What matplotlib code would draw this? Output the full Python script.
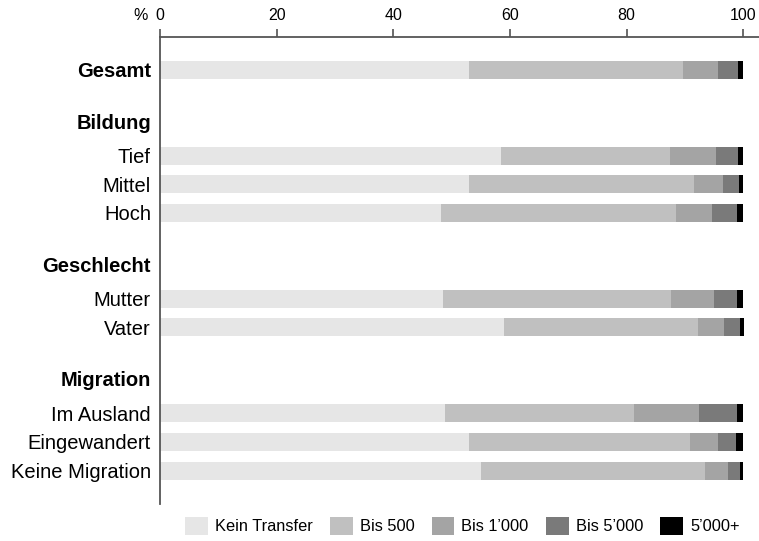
import matplotlib
matplotlib.use("Agg")
import matplotlib.pyplot as plt
from matplotlib.patches import Patch

plt.rcParams['font.family'] = ['Liberation Sans', 'DejaVu Sans']

rows = ["Gesamt", "Tief", "Mittel", "Hoch", "Mutter", "Vater",
        "Im Ausland", "Eingewandert", "Keine Migration"]
headers = ["Bildung", "Geschlecht", "Migration"]
series = ["Kein Transfer", "Bis 500", "Bis 1\u2019000", "Bis 5\u2019000", "5\u2019000+"]

kein_transfer = [53.0, 58.5, 52.9, 48.2, 48.6, 58.9, 48.8, 53.0, 55.0]
bis_500       = [36.7, 29.0, 38.7, 40.3, 39.0, 33.4, 32.4, 37.9, 38.4]
bis_1000      = [6.0, 7.9, 4.9, 6.2, 7.3, 4.4, 11.2, 4.8, 4.0]
bis_5000      = [3.4, 3.7, 2.8, 4.2, 4.0, 2.8, 6.5, 3.1, 2.1]
ueber_5000    = [0.9, 0.9, 0.7, 1.1, 1.1, 0.7, 1.1, 1.2, 0.5]

xticks = [0, 20, 40, 60, 80, 100]

colors = ["#e6e6e6", "#c0c0c0", "#a4a4a4", "#7a7a7a", "#000000"]

# layout positions (row index units)
row_pos = [0, 3, 4, 5, 8, 9, 12, 13, 14]
header_pos = [1.8, 6.8, 10.8]

fig = plt.figure(figsize=(7.59, 5.41), dpi=100)
ax = fig.add_axes([160/759, 1-504/541, 1-160/759, (504-37)/541])

data = [kein_transfer, bis_500, bis_1000, bis_5000, ueber_5000]
left = [0.0]*len(rows)
for vals, col, name in zip(data, colors, series):
    ax.barh(row_pos, vals, left=left, height=0.63, color=col, label=name,
            linewidth=0)
    left = [l + v for l, v in zip(left, vals)]

ax.set_xlim(0, 102.7)
ax.set_ylim(15.17, -1.15)

ax.xaxis.tick_top()
ax.set_xticks(xticks)
ax.set_xticklabels([str(t) for t in xticks], fontsize=11.5)
ax.tick_params(axis='x', direction='out', length=5.8, width=1.1, color='#444444', pad=4)

ypos = row_pos + header_pos
ylabels = rows + headers
ax.set_yticks(ypos)
ax.set_yticklabels(ylabels, fontsize=14.5)
ax.tick_params(axis='y', length=0, pad=6.5)
for lbl in ax.get_yticklabels():
    if lbl.get_text() in headers or lbl.get_text() == "Gesamt":
        lbl.set_fontweight('bold')

for s in ['right', 'bottom']:
    ax.spines[s].set_visible(False)
for s in ['top', 'left']:
    ax.spines[s].set_color('#555555')
    ax.spines[s].set_linewidth(1.3)

ax.annotate("%", xy=(0, 1), xycoords='axes fraction', xytext=(-8.6, 15.8),
            textcoords='offset points', ha='right', va='center', fontsize=11.5)

handles = [Patch(facecolor=c, edgecolor='none', label=n) for c, n in zip(colors, series)]
fig.legend(handles=handles, loc='center', bbox_to_anchor=(0.609, 1-526/541), ncol=5,
           frameon=False, fontsize=11.8, handlelength=1.4, handleheight=1.4,
           handletextpad=0.42, columnspacing=1.05, borderpad=0, borderaxespad=0)

fig.savefig("out.png", dpi=100)
